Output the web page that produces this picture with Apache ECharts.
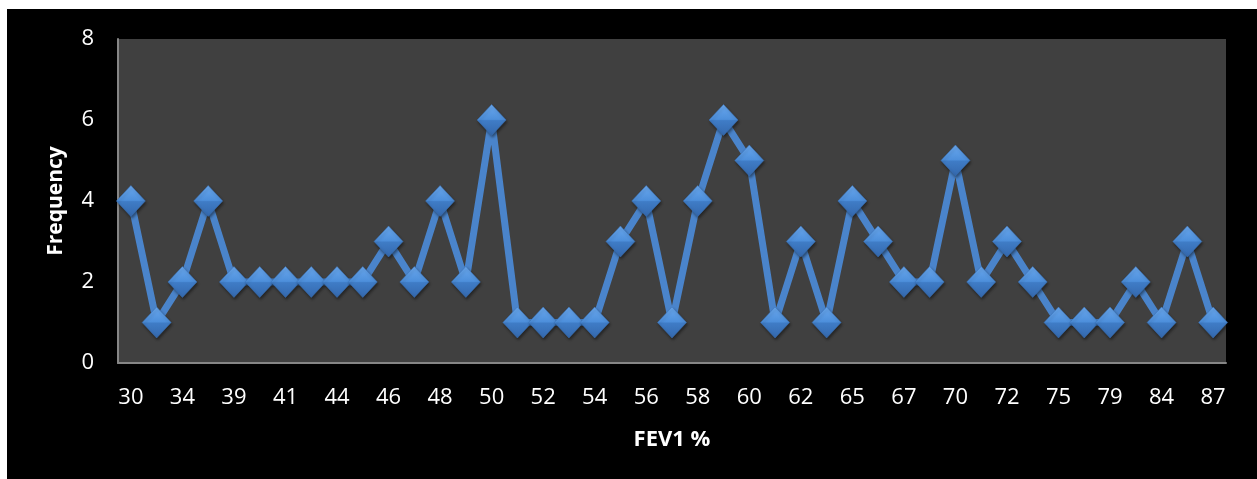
<!DOCTYPE html>
<html>
<head>
<meta charset="utf-8">
<script src="https://cdn.jsdelivr.net/npm/echarts@6/dist/echarts.min.js"></script>
<style>
  html, body { margin: 0; padding: 0; background: #ffffff; }
  #chart { position: absolute; left: 7px; top: 9px; width: 1250px; height: 470px; background: #000000; }
</style>
</head>
<body>
<div id="chart"></div>
<script>
// FEV1 % bins (every other one is labelled on the axis)
const fev1Categories = [
  '30', '32', '34', '36', '39', '40', '41', '42', '44', '45', '46',
  '47', '48', '49', '50', '51', '52', '53', '54', '55', '56', '57',
  '58', '59', '60', '61', '62', '63', '65', '66', '67', '68', '70',
  '71', '72', '73', '75', '77', '79', '81', '84', '85', '87'
];

// Number of patients in each FEV1 % bin
const frequency = [
  4, 1, 2, 4, 2, 2, 2, 2, 2, 2, 3,
  2, 4, 2, 6, 1, 1, 1, 1, 3, 4, 1,
  4, 6, 5, 1, 3, 1, 4, 3, 2, 2, 5,
  2, 3, 2, 1, 1, 1, 2, 1, 3, 1
];

const yTicks = { min: 0, max: 8, interval: 2 };

const FONT = '"Open Sans", "DejaVu Sans", sans-serif';

const chart = echarts.init(document.getElementById('chart'), null, { renderer: 'canvas' });

// Bevelled diamond: lighter upper facet, darker lower facet
const diamondFill = new echarts.graphic.LinearGradient(0, 0, 0, 1, [
  { offset: 0, color: '#6aa8ee' },
  { offset: 0.48, color: '#4d8fdb' },
  { offset: 0.52, color: '#3f7cc6' },
  { offset: 1, color: '#3468ad' }
]);

chart.setOption({
  backgroundColor: '#000000',
  animation: false,
  grid: {
    left: 111,
    right: 31,
    top: 30,
    bottom: 116,
    show: true,
    backgroundColor: '#404040',
    borderWidth: 0
  },
  xAxis: {
    type: 'category',
    data: fev1Categories,
    boundaryGap: true,
    name: 'FEV1 %',
    nameLocation: 'middle',
    nameGap: 66,
    nameTextStyle: { color: '#ffffff', fontFamily: FONT, fontWeight: 'bold', fontSize: 22 },
    axisLine: { show: true, lineStyle: { color: '#868686', width: 2 } },
    axisTick: { show: false },
    axisLabel: { color: '#ffffff', fontFamily: FONT, fontSize: 22, interval: 1, margin: 24 },
    splitLine: { show: false }
  },
  yAxis: {
    type: 'value',
    min: yTicks.min,
    max: yTicks.max,
    interval: yTicks.interval,
    name: 'Frequency',
    nameLocation: 'middle',
    nameGap: 51,
    nameTextStyle: { color: '#ffffff', fontFamily: FONT, fontWeight: 'bold', fontSize: 21 },
    axisLine: { show: true, lineStyle: { color: '#868686', width: 2 } },
    axisTick: { show: false },
    axisLabel: { color: '#ffffff', fontFamily: FONT, fontSize: 22, margin: 24 },
    splitLine: { show: false }
  },
  series: [{
    type: 'line',
    data: frequency,
    symbol: 'diamond',
    symbolSize: [29, 31],
    showAllSymbol: true,
    lineStyle: { color: '#4a84cb', width: 7, join: 'bevel' },
    itemStyle: {
      color: diamondFill,
      borderColor: '#3a72b8',
      borderWidth: 0.5,
      shadowColor: 'rgba(0,0,0,0.45)',
      shadowBlur: 3,
      shadowOffsetX: 1,
      shadowOffsetY: 2
    },
    emphasis: { disabled: true }
  }]
});
</script>
</body>
</html>
